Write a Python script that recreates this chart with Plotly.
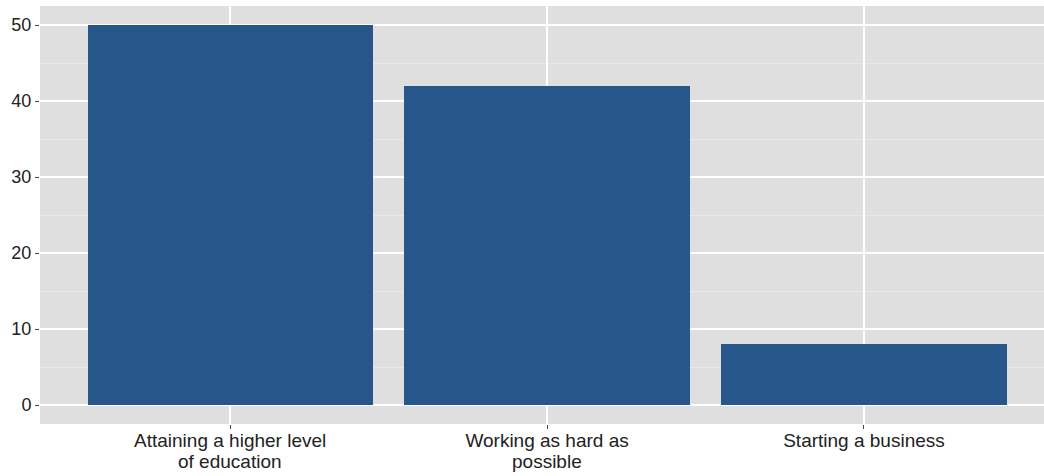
import plotly.graph_objects as go

categories = ["Attaining a higher level<br>of education", "Working as hard as<br>possible", "Starting a business"]
values = [50, 42, 8]
y_ticks = [0, 10, 20, 30, 40, 50]

positions = list(range(len(categories)))
first_lines = [c.split("<br>")[0] for c in categories]
second_lines = [c.split("<br>")[1] if "<br>" in c else "" for c in categories]

fig = go.Figure()
fig.add_trace(go.Bar(
    x=positions, y=values, width=0.9,
    marker=dict(color="#27568A", line=dict(width=0)),
    hoverinfo="skip",
))

# second lines of the wrapped category labels (tighter line spacing than Plotly's default)
for p, line in zip(positions, second_lines):
    if line:
        fig.add_annotation(
            x=p, xref="x", y=0, yref="paper", text=line, showarrow=False,
            xanchor="center", yanchor="middle", yshift=-37,
            font=dict(size=19, color="#222222"),
        )

fig.update_layout(
    width=1044, height=476,
    margin=dict(l=40, r=0, t=6, b=52, autoexpand=False),
    paper_bgcolor="white", plot_bgcolor="#DFDFDF",
    font=dict(family="Liberation Sans, Arial, sans-serif", size=18, color="#222222"),
    showlegend=False,
    bargap=0,
)
fig.update_xaxes(
    tickmode="array", tickvals=positions, ticktext=first_lines,
    tickfont=dict(size=19), ticklabelstandoff=-5,
    range=[-0.6, 2.568], showgrid=True, gridcolor="white", gridwidth=1.5,
    ticks="outside", ticklen=4, tickcolor="#444444", zeroline=False, showline=False,
    automargin=False,
)
fig.update_yaxes(
    tickmode="array", tickvals=y_ticks, range=[-2.5, 52.5],
    showgrid=True, gridcolor="white", gridwidth=1.5,
    minor=dict(dtick=5, tick0=5, showgrid=True, gridcolor="#E9E9E9", gridwidth=1, ticks=""),
    ticks="outside", ticklen=4, tickcolor="#444444", zeroline=False, showline=False,
    automargin=False,
)
fig.write_html(
    "out.html",
    config={"displayModeBar": False},
    post_script="document.body.style.margin='0';document.body.style.overflow='hidden';",
)
